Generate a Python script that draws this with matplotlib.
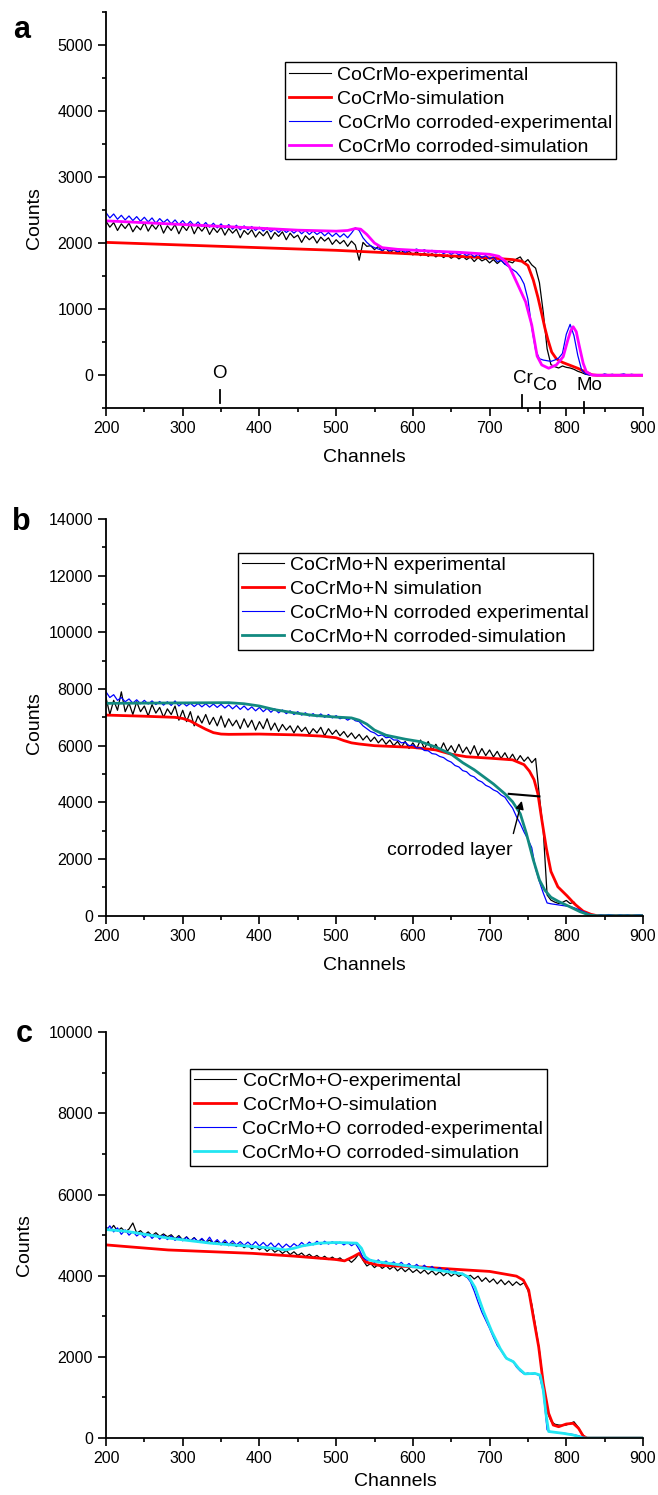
"""
RBS spectra of CoCrMo, CoCrMo+N and CoCrMo+O: as-implanted vs corroded,
experimental and simulated counts against channel number.
"""

import matplotlib
matplotlib.use("Agg")
import matplotlib.pyplot as plt
from matplotlib.ticker import MultipleLocator
from matplotlib.lines import Line2D

plt.rcParams['font.family'] = ['Liberation Sans', 'DejaVu Sans']

# ---------------------------------------------------------------- data
# experimental spectra are read every 5 channels (200 ... 900)
ch_exp = list(range(200, 905, 5))

# (a) CoCrMo
a_exp = [
    2330, 2240, 2310, 2190, 2290, 2220, 2300, 2170, 2260, 2200,
    2310, 2180, 2280, 2210, 2300, 2150, 2260, 2190, 2280, 2140,
    2260, 2190, 2290, 2140, 2250, 2180, 2260, 2130, 2230, 2160,
    2240, 2120, 2220, 2150, 2210, 2080, 2190, 2130, 2200, 2090,
    2170, 2110, 2180, 2060, 2160, 2100, 2170, 2050, 2150, 2080,
    2120, 2010, 2110, 2050, 2100, 2000, 2090, 2030, 2080, 1980,
    2050, 1990, 2040, 1950, 2030, 1970, 1740, 2010, 1950, 1960,
    1900, 1950, 1880, 1920, 1850, 1900, 1860, 1890, 1830, 1880,
    1820, 1870, 1810, 1850, 1800, 1840, 1790, 1830, 1780, 1820,
    1770, 1810, 1760, 1800, 1750, 1790, 1720, 1780, 1730, 1760,
    1700, 1750, 1690, 1740, 1680, 1720, 1700, 1760, 1790, 1700,
    1750, 1670, 1620, 1400, 950, 400, 160, 130, 110, 140,
    120, 110, 90, 60, 40, 15, 5, 0, 0, 0,
    0, 0, 0, 0, 0, 0, 0, 0, 0, 0,
    0,
]
a_corr_exp = [
    2460, 2380, 2440, 2360, 2420, 2350, 2410, 2340, 2400, 2330,
    2390, 2320, 2380, 2300, 2370, 2310, 2360, 2290, 2350, 2280,
    2340, 2270, 2330, 2260, 2320, 2250, 2310, 2240, 2300, 2230,
    2290, 2220, 2280, 2210, 2270, 2200, 2260, 2200, 2250, 2190,
    2240, 2180, 2230, 2170, 2220, 2160, 2210, 2160, 2200, 2150,
    2200, 2140, 2190, 2130, 2180, 2130, 2170, 2110, 2160, 2100,
    2150, 2090, 2140, 2080, 2150, 2230, 2190, 2080, 2010, 1960,
    1930, 1910, 1890, 1920, 1880, 1910, 1870, 1900, 1860, 1890,
    1890, 1910, 1870, 1900, 1860, 1890, 1850, 1880, 1840, 1870,
    1830, 1860, 1820, 1850, 1810, 1840, 1790, 1830, 1780, 1810,
    1760, 1790, 1720, 1740, 1680, 1640, 1600, 1560, 1490, 1380,
    1150, 720, 380, 250, 230, 220, 210, 230, 260, 330,
    620, 770, 600, 300, 80, 20, 5, 0, 10, 0,
    20, 5, 15, 0, 10, 20, 0, 15, 5, 10,
    0,
]
a_sim_ch = [200, 300, 400, 500, 600, 700, 730, 742, 750, 757, 763, 768,
            772, 776, 781, 787, 795, 805, 815, 825, 834, 840, 900]
a_sim = [2010, 1970, 1930, 1890, 1835, 1775, 1750, 1725, 1660, 1440, 1180, 930,
         720, 540, 350, 250, 195, 150, 105, 50, 5, 0, 0]
a_corr_sim_ch = [200, 300, 400, 450, 500, 515, 525, 532, 540, 550,
                 560, 580, 620, 660, 700, 712, 720, 726, 736, 747,
                 755, 762, 768, 777, 787, 796, 802, 806, 809, 813,
                 817, 822, 826, 833, 840, 900]
a_corr_sim = [2336, 2280, 2225, 2195, 2180, 2190, 2220, 2210, 2130, 2000,
              1930, 1905, 1880, 1860, 1830, 1800, 1730, 1640, 1390, 1110,
              760, 290, 156, 106, 156, 281, 533, 680, 734, 659,
              440, 181, 55, 5, 0, 0]
a_labels = ['CoCrMo-experimental', 'CoCrMo-simulation',
            'CoCrMo corroded-experimental', 'CoCrMo corroded-simulation']
elements = ['O', 'Cr', 'Co', 'Mo']
element_ch = [348, 742, 766, 823]

# (b) CoCrMo+N
b_exp = [
    7700, 7100, 7600, 7250, 7900, 7200, 7500, 7100, 7550, 7200,
    7400, 7050, 7450, 7150, 7350, 7000, 7300, 7100, 7400, 6900,
    7250, 6850, 7200, 6700, 7050, 6800, 7100, 6750, 7000, 6700,
    7050, 6650, 6950, 6700, 6900, 6600, 6950, 6650, 6900, 6550,
    6850, 6600, 6950, 6550, 6800, 6500, 6750, 6550, 6700, 6450,
    6700, 6500, 6650, 6400, 6600, 6450, 6650, 6350, 6600, 6400,
    6550, 6350, 6500, 6300, 6450, 6250, 6400, 6200, 6350, 6150,
    6300, 6100, 6250, 6050, 6200, 6000, 6150, 5950, 6150, 5900,
    6100, 5900, 6200, 5900, 6150, 5850, 6050, 5800, 6100, 5800,
    6000, 5750, 6050, 5750, 5950, 5700, 6000, 5650, 5900, 5650,
    5850, 5600, 5800, 5550, 5750, 5500, 5700, 5450, 5650, 5450,
    5600, 5400, 5550, 4200, 3000, 730, 550, 480, 430, 470,
    540, 430, 480, 300, 160, 60, 10, 0, 0, 0,
    0, 0, 0, 0, 0, 0, 0, 0, 0, 0,
    0,
]
b_corr_exp = [
    7900, 7700, 7800, 7600, 7700, 7550, 7650, 7500, 7620, 7480,
    7600, 7470, 7580, 7450, 7560, 7430, 7550, 7420, 7580, 7400,
    7520, 7400, 7500, 7380, 7490, 7370, 7480, 7360, 7470, 7350,
    7460, 7330, 7440, 7300, 7420, 7280, 7400, 7260, 7370, 7230,
    7350, 7200, 7320, 7180, 7300, 7160, 7260, 7130, 7230, 7100,
    7200, 7080, 7160, 7050, 7130, 7020, 7120, 7000, 7100, 6980,
    7060, 6950, 7000, 6900, 6980, 6880, 6850, 6700, 6600, 6500,
    6450, 6350, 6380, 6280, 6300, 6200, 6200, 6100, 6120, 6000,
    6020, 5920, 5930, 5830, 5820, 5720, 5700, 5620, 5580, 5480,
    5420, 5300, 5250, 5120, 5080, 4950, 4900, 4780, 4720, 4600,
    4540, 4440, 4380, 4260, 4180, 3980, 3800, 3500, 3250, 2950,
    2700, 2400, 1650, 1200, 800, 450, 420, 400, 380, 360,
    340, 320, 280, 230, 170, 110, 50, 20, 0, 30,
    10, 40, 20, 0, 30, 10, 30, 0, 20, 30,
    10,
]
b_sim_ch = [200, 250, 290, 300, 310, 320, 330, 340, 350, 360,
            400, 450, 480, 500, 510, 520, 530, 550, 600, 630,
            650, 670, 700, 730, 745, 752, 758, 763, 768, 774,
            780, 789, 801, 811, 822, 832, 840, 900]
b_sim = [7080, 7040, 7000, 6960, 6870, 6720, 6580, 6460, 6410, 6400,
         6410, 6380, 6340, 6280, 6180, 6100, 6060, 6000, 5940, 5850,
         5700, 5610, 5560, 5500, 5330, 5100, 4800, 4300, 3400, 2380,
         1560, 1020, 700, 410, 160, 50, 0, 0]
b_corr_sim_ch = [200, 300, 360, 380, 400, 420, 445, 470, 500, 520,
                 530, 540, 550, 565, 590, 610, 630, 650, 665, 680,
                 692, 705, 720, 730, 740, 748, 757, 765, 772, 780,
                 790, 805, 818, 830, 838, 900]
b_corr_sim = [7494, 7510, 7518, 7480, 7400, 7270, 7160, 7070, 7010, 6980,
              6900, 6760, 6550, 6370, 6230, 6140, 5950, 5700, 5400, 5150,
              4910, 4650, 4300, 4020, 3600, 2900, 1970, 1260, 900, 650,
              500, 310, 140, 25, 0, 0]
b_labels = ['CoCrMo+N experimental', 'CoCrMo+N simulation',
            'CoCrMo+N corroded experimental', 'CoCrMo+N corroded-simulation']

# (c) CoCrMo+O
c_exp = [
    5200, 5120, 5240, 5100, 5180, 5080, 5150, 5300, 5050, 5110,
    5010, 5080, 4990, 5060, 4970, 5030, 4960, 5010, 4910, 4990,
    4880, 4960, 4860, 4940, 4830, 4900, 4810, 4880, 4790, 4850,
    4760, 4830, 4740, 4800, 4720, 4780, 4690, 4750, 4660, 4720,
    4640, 4700, 4600, 4680, 4580, 4640, 4550, 4620, 4520, 4590,
    4500, 4560, 4470, 4530, 4450, 4500, 4420, 4480, 4400, 4460,
    4390, 4440, 4360, 4410, 4330, 4420, 4550, 4380, 4240, 4300,
    4200, 4280, 4180, 4250, 4160, 4230, 4120, 4200, 4100, 4180,
    4080, 4150, 4060, 4140, 4040, 4120, 4020, 4100, 4000, 4080,
    3990, 4060, 3980, 4040, 3960, 4010, 3920, 3990, 3860, 3950,
    3840, 3920, 3800, 3900, 3780, 3870, 3760, 3850, 3770, 3830,
    3640, 3300, 2750, 2150, 1350, 650, 420, 340, 320, 310,
    320, 360, 400, 280, 110, 20, 0, 0, 0, 0,
    0, 0, 0, 0, 0, 0, 0, 0, 0, 0,
    0,
]
c_corr_exp = [
    5100, 5230, 5080, 5180, 5020, 5130, 5000, 5090, 4980, 5050,
    4940, 5040, 4920, 5010, 4900, 5000, 4890, 4980, 4870, 4960,
    4860, 4950, 4850, 4930, 4840, 4920, 4820, 4950, 4800, 4890,
    4780, 4880, 4770, 4860, 4760, 4840, 4750, 4830, 4740, 4840,
    4730, 4820, 4720, 4810, 4700, 4800, 4690, 4780, 4700, 4790,
    4720, 4820, 4740, 4830, 4760, 4850, 4770, 4850, 4780, 4840,
    4780, 4830, 4760, 4820, 4740, 4800, 4650, 4450, 4380, 4400,
    4330, 4390, 4300, 4360, 4280, 4340, 4260, 4330, 4230, 4300,
    4200, 4280, 4180, 4260, 4160, 4230, 4140, 4200, 4110, 4170,
    4080, 4110, 4050, 4060, 3980, 3850, 3620, 3350, 3100, 2900,
    2700, 2480, 2280, 2150, 2000, 1940, 1900, 1750, 1650, 1580,
    1600, 1570, 1590, 1530, 1150, 200, 150, 140, 130, 120,
    110, 100, 80, 60, 30, 0, 0, 0, 0, 0,
    0, 0, 0, 0, 0, 0, 0, 0, 0, 0,
    0,
]
c_sim_ch = [200, 226, 281, 336, 391, 445, 500, 511, 522, 530,
            538, 555, 610, 664, 700, 735, 744, 751, 757, 764,
            770, 777, 783, 790, 800, 809, 816, 822, 827, 900]
c_sim = [4760, 4719, 4635, 4593, 4551, 4483, 4399, 4366, 4467, 4551,
         4341, 4257, 4215, 4148, 4106, 3990, 3892, 3645, 2988, 2249,
         1347, 608, 320, 278, 345, 362, 239, 49, 0, 0]
c_corr_sim_ch = [200, 226, 281, 336, 391, 418, 434, 445, 456, 478,
                 500, 527, 533, 538, 544, 555, 610, 664, 673, 681,
                 692, 703, 714, 722, 731, 738, 746, 759, 766, 770,
                 774, 777, 796, 809, 822, 900]
c_corr_sim = [5138, 5096, 4928, 4803, 4719, 4677, 4635, 4677, 4735, 4803,
              4819, 4803, 4677, 4467, 4383, 4341, 4198, 4047, 3963, 3711,
              3123, 2620, 2200, 1963, 1880, 1716, 1580, 1593, 1550, 1180,
              525, 160, 115, 74, 0, 0]
c_labels = ['CoCrMo+O-experimental', 'CoCrMo+O-simulation',
            'CoCrMo+O corroded-experimental', 'CoCrMo+O corroded-simulation']

# ---------------------------------------------------------------- figure
W, H = 658, 1495
fig = plt.figure(figsize=(W / 100, H / 100), dpi=100)


def fx(x):
    return x / W


def fy(y):
    return 1 - y / H


def add_panel(top, bottom, ylim, ymajor, yminor):
    ax = fig.add_axes([fx(106), fy(bottom), fx(643) - fx(106), (bottom - top) / H])
    ax.set_xlim(200, 900)
    ax.set_ylim(*ylim)
    ax.xaxis.set_major_locator(MultipleLocator(100))
    ax.xaxis.set_minor_locator(MultipleLocator(50))
    ax.yaxis.set_major_locator(MultipleLocator(ymajor))
    ax.yaxis.set_minor_locator(MultipleLocator(yminor))
    for s in ['top', 'right']:
        ax.spines[s].set_visible(False)
    for s in ['left', 'bottom']:
        ax.spines[s].set_linewidth(1.3)
    ax.tick_params(which='major', direction='out', length=5.5, width=1.2,
                   labelsize=11.5, pad=4)
    ax.tick_params(which='minor', direction='out', length=3, width=1.2)
    return ax


def draw_spectra(ax, exp, sim_ch, sim, corr_exp, corr_sim_ch, corr_sim,
                 corr_color, labels, legend_xy):
    ax.plot(ch_exp, exp, color='black', lw=0.9)
    ax.plot(sim_ch, sim, color='#ff0000', lw=2.0)
    ax.plot(ch_exp, corr_exp, color='#0000ff', lw=0.9)
    ax.plot(corr_sim_ch, corr_sim, color=corr_color, lw=2.0)
    handles = [Line2D([], [], color='black', lw=0.8),
               Line2D([], [], color='#ff0000', lw=2.0),
               Line2D([], [], color='#0000ff', lw=0.8),
               Line2D([], [], color=corr_color, lw=2.0)]
    leg = ax.legend(handles, labels, loc='upper left',
                    bbox_to_anchor=(fx(legend_xy[0]), fy(legend_xy[1])),
                    bbox_transform=fig.transFigure, borderaxespad=0,
                    fancybox=False, framealpha=1, edgecolor='black',
                    fontsize=14, handlelength=2.15, handletextpad=0.35,
                    borderpad=0.2, labelspacing=0.33)
    leg.get_frame().set_linewidth(1.0)


# (a)
ax_a = add_panel(11.7, 408.3, (-500, 5500), 1000, 500)
draw_spectra(ax_a, a_exp, a_sim_ch, a_sim, a_corr_exp, a_corr_sim_ch, a_corr_sim,
             '#ff00ff', a_labels, (285, 62))
# surface edge markers
text_pos = [(348, 30), (744, -56), (772, -157), (830, -157)]
bar_span = [(-222, -423), (-297, -500), (-398, -575), (-398, -575)]
for name, ch, (tx, ty), (y0, y1) in zip(elements, element_ch, text_pos, bar_span):
    ax_a.text(tx, ty, name, fontsize=13.5, ha='center', va='center')
    ax_a.plot([ch, ch], [y0, y1], color='black', lw=1.3, clip_on=False)

# (b)
ax_b = add_panel(519, 915.7, (0, 14000), 2000, 1000)
draw_spectra(ax_b, b_exp, b_sim_ch, b_sim, b_corr_exp, b_corr_sim_ch, b_corr_sim,
             '#128a80', b_labels, (238, 552.7))
ax_b.plot([725, 765], [4300, 4210], color='black', lw=1.5)
ax_b.annotate('', xy=(742, 4050), xytext=(731, 2900),
              arrowprops=dict(arrowstyle='-|>', color='black', lw=1.0,
                              mutation_scale=12, shrinkA=0, shrinkB=0))
ax_b.text(648, 2318, 'corroded layer', fontsize=14, ha='center', va='center')

# (c)
ax_c = add_panel(1032.3, 1438, (0, 10000), 2000, 1000)
draw_spectra(ax_c, c_exp, c_sim_ch, c_sim, c_corr_exp, c_corr_sim_ch, c_corr_sim,
             '#22e6f2', c_labels, (190, 1068.5))

# panel letters and axis titles
for letter, x, y in [('a', 22, 30), ('b', 21, 522), ('c', 24.5, 1034)]:
    fig.text(fx(x), fy(y), letter, fontsize=22, fontweight='bold',
             ha='center', va='center')
for x, y in [(34, 218), (34, 723), (25, 1245)]:
    fig.text(fx(x), fy(y), 'Counts', fontsize=14, rotation=90,
             ha='center', va='center')
for x, y in [(364, 458), (364, 966), (395, 1482)]:
    fig.text(fx(x), fy(y), 'Channels', fontsize=14, ha='center', va='center')

fig.savefig('out.png', dpi=100)
